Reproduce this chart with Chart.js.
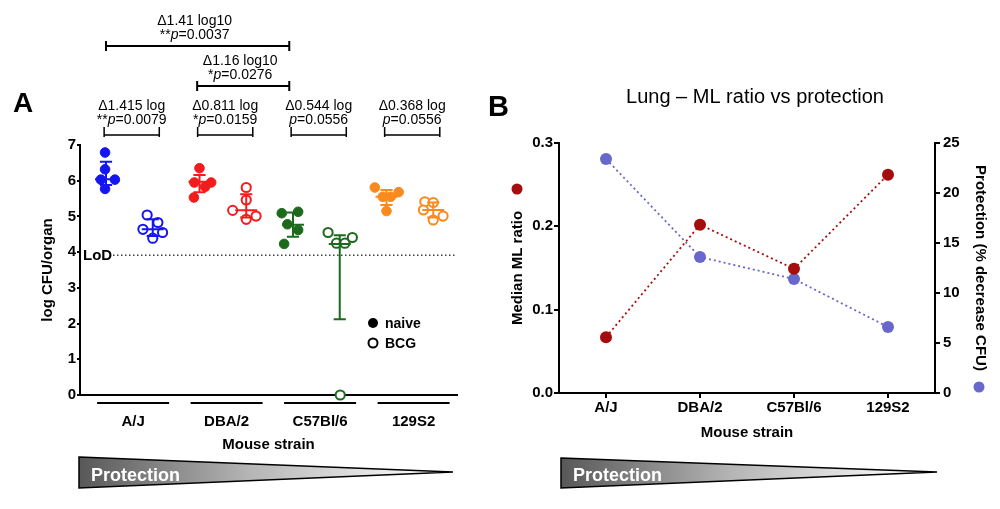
<!DOCTYPE html>
<html>
<head>
<meta charset="utf-8">
<script src="https://cdn.jsdelivr.net/npm/chart.js@4.4.1/dist/chart.umd.min.js"></script>
<style>
    html, body { margin: 0; padding: 0; background: #fff; }
    #wrap { position: relative; width: 1000px; height: 509px; overflow: hidden; }
    canvas { position: absolute; top: 0; }
    #cfuChart { left: 0; }
    #mlChart { left: 480px; }
</style>
</head>
<body>
<div id="wrap">
    <canvas id="cfuChart" width="480" height="509"></canvas>
    <canvas id="mlChart" width="520" height="509"></canvas>
</div>
<script>
const FONT = '"Liberation Sans", Arial, Helvetica, sans-serif';

// ---- Panel A data (log CFU/organ, 5 mice per group) ----
const strains = ['A/J', 'DBA/2', 'C57Bl/6', '129S2'];
const strainColors = ['#1515f2', '#f21c1c', '#1d6a1d', '#fa8a1c'];

const naiveCFU = [
    [6.79, 6.32, 6.03, 6.03, 5.77],
    [6.35, 5.95, 5.95, 5.83, 5.53],
    [5.09, 5.13, 4.78, 4.62, 4.23],
    [5.81, 5.55, 5.55, 5.68, 5.15]
];
const bcgCFU = [
    [5.04, 4.83, 4.64, 4.55, 4.39],
    [5.81, 5.46, 5.17, 5.01, 4.92],
    [4.55, 4.25, 4.25, 4.41, 0],
    [5.41, 5.39, 5.18, 5.01, 4.90]
];
// horizontal scatter of the dots inside each column
const naiveJitter = [
    [-0.02, -0.02, -0.11, 0.19, -0.02],
    [0, -0.11, 0.25, 0.12, -0.12],
    [-0.24, 0.11, -0.12, 0.11, -0.19],
    [-0.25, -0.08, 0.09, 0.26, 0]
];
const bcgJitter = [
    [-0.12, 0.11, -0.21, 0.21, 0],
    [0, 0, -0.29, 0.21, 0],
    [-0.25, -0.07, 0.11, 0.27, 0.01],
    [-0.18, 0, -0.21, 0.21, 0]
];
const naiveMedian = [6.04, 5.97, 4.77, 5.55];
const naiveLow = [5.88, 5.68, 4.43, 5.32];
const naiveHigh = [6.53, 6.16, 5.11, 5.74];
const bcgMedian = [4.64, 5.17, 4.23, 5.18];
const bcgLow = [4.45, 4.97, 2.12, 4.97];
const bcgHigh = [4.92, 5.62, 4.47, 5.39];
const lodValue = 3.91;

// naive vs BCG within each strain
const deltaText = ['\u03941.415 log', '\u03940.811 log', '\u03940.544 log', '\u03940.368 log'];
const deltaStars = ['**', '*', '', ''];
const deltaP = ['0.0079', '0.0159', '0.0556', '0.0556'];
// comparisons between strains (column indices)
const crossText = ['\u03941.41 log10', '\u03941.16 log10'];
const crossStars = ['**', '*'];
const crossP = ['0.0037', '0.0276'];
const crossFrom = [0, 1.95];
const crossTo = [3.92, 3.92];

// ---- Panel B data ----
const mlRatio = [0.067, 0.202, 0.149, 0.262];
const protectionPct = [23.4, 13.6, 11.4, 6.6];

const mlRed = '#a50d0d';
const protBlue = '#6767cc';

// italic p in "**p=0.0079"
function drawStat(ctx, stars, pval, cx, y) {
    const normal = '14px ' + FONT;
    const italic = 'italic 14px ' + FONT;
    ctx.font = normal;
    const w1 = ctx.measureText(stars).width;
    const w3 = ctx.measureText('=' + pval).width;
    ctx.font = italic;
    const w2 = ctx.measureText('p').width;
    let x = cx - (w1 + w2 + w3) / 2;
    ctx.textAlign = 'left';
    ctx.font = normal;
    ctx.fillText(stars, x, y);
    x += w1;
    ctx.font = italic;
    ctx.fillText('p', x, y);
    x += w2;
    ctx.font = normal;
    ctx.fillText('=' + pval, x, y);
}

// "Protection" wedge under each panel
function drawWedge(ctx, x0, yTop, yBot, xTip, yTip) {
    const g = ctx.createLinearGradient(x0, 0, xTip, 0);
    g.addColorStop(0, '#585858');
    g.addColorStop(0.45, '#b4b4b4');
    g.addColorStop(0.85, '#f0f0f0');
    g.addColorStop(1, '#ffffff');
    ctx.save();
    ctx.beginPath();
    ctx.moveTo(x0, yTop);
    ctx.lineTo(xTip, yTip);
    ctx.lineTo(x0, yBot);
    ctx.closePath();
    ctx.fillStyle = g;
    ctx.fill();
    ctx.strokeStyle = '#000';
    ctx.lineWidth = 1.5;
    ctx.stroke();
    ctx.fillStyle = '#fff';
    ctx.font = 'bold 18px ' + FONT;
    ctx.textAlign = 'left';
    ctx.textBaseline = 'alphabetic';
    ctx.fillText('Protection', x0 + 12, yBot - 7);
    ctx.restore();
}

// ---- Panel A ----
const cfuDatasets = [];
strains.forEach((s, k) => {
    cfuDatasets.push({
        label: s + ' naive',
        data: naiveCFU[k].map((v, i) => ({ x: 2 * k + naiveJitter[k][i], y: v })),
        backgroundColor: strainColors[k],
        borderColor: strainColors[k],
        pointRadius: 4.8,
        borderWidth: 1,
        clip: false
    });
    cfuDatasets.push({
        label: s + ' BCG',
        data: bcgCFU[k].map((v, i) => ({ x: 2 * k + 1 + bcgJitter[k][i], y: v })),
        backgroundColor: '#fff',
        borderColor: strainColors[k],
        pointRadius: 4.6,
        borderWidth: 2,
        clip: false
    });
});

const panelA = {
    id: 'panelA',
    beforeDatasetsDraw(chart) {
        const { ctx, scales: { y }, chartArea } = chart;
        const yl = y.getPixelForValue(lodValue);
        ctx.save();
        ctx.strokeStyle = '#444';
        ctx.lineWidth = 1.5;
        ctx.setLineDash([1.5, 2.5]);
        ctx.beginPath();
        ctx.moveTo(chartArea.left + 33, yl);
        ctx.lineTo(chartArea.right, yl);
        ctx.stroke();
        ctx.setLineDash([]);
        ctx.fillStyle = '#000';
        ctx.font = 'bold 15px ' + FONT;
        ctx.textBaseline = 'middle';
        ctx.textAlign = 'left';
        ctx.fillText('LoD', chartArea.left + 3, yl + 1);
        ctx.restore();
    },
    afterDatasetsDraw(chart) {
        const { ctx, scales: { x, y } } = chart;
        const bar = (slot, mid, lo, hi, color) => {
            const xc = x.getPixelForValue(slot);
            const mw = x.getPixelForValue(slot + 0.235) - xc;
            const cw = x.getPixelForValue(slot + 0.13) - xc;
            ctx.strokeStyle = color;
            ctx.lineWidth = 2;
            ctx.beginPath();
            ctx.moveTo(xc - mw, y.getPixelForValue(mid));
            ctx.lineTo(xc + mw, y.getPixelForValue(mid));
            ctx.moveTo(xc, y.getPixelForValue(hi));
            ctx.lineTo(xc, y.getPixelForValue(lo));
            ctx.moveTo(xc - cw, y.getPixelForValue(hi));
            ctx.lineTo(xc + cw, y.getPixelForValue(hi));
            ctx.moveTo(xc - cw, y.getPixelForValue(lo));
            ctx.lineTo(xc + cw, y.getPixelForValue(lo));
            ctx.stroke();
        };
        ctx.save();
        strains.forEach((s, k) => {
            bar(2 * k, naiveMedian[k], naiveLow[k], naiveHigh[k], strainColors[k]);
            bar(2 * k + 1, bcgMedian[k], bcgLow[k], bcgHigh[k], strainColors[k]);
        });
        ctx.restore();
    },
    afterDraw(chart) {
        const { ctx, scales: { x }, chartArea } = chart;
        ctx.save();
        ctx.fillStyle = '#000';
        ctx.strokeStyle = '#000';

        // big panel letter
        ctx.font = 'bold 28px ' + FONT;
        ctx.textAlign = 'left';
        ctx.textBaseline = 'alphabetic';
        ctx.fillText('A', 13, 112);

        // within-strain brackets
        ctx.lineWidth = 1.5;
        strains.forEach((s, k) => {
            const x0 = x.getPixelForValue(2 * k - 0.04);
            const x1 = x.getPixelForValue(2 * k + 1.14);
            ctx.beginPath();
            ctx.moveTo(x0, 127); ctx.lineTo(x0, 137);
            ctx.moveTo(x1, 127); ctx.lineTo(x1, 137);
            ctx.moveTo(x0, 135); ctx.lineTo(x1, 135);
            ctx.stroke();
            const cx = (x0 + x1) / 2;
            ctx.font = '14px ' + FONT;
            ctx.textAlign = 'center';
            ctx.textBaseline = 'middle';
            ctx.fillText(deltaText[k], cx, 106);
            drawStat(ctx, deltaStars[k], deltaP[k], cx, 120);
        });

        // between-strain brackets
        const levels = [46, 86];
        const textY = [[21, 35], [61, 75]];
        crossText.forEach((t, i) => {
            const x0 = x.getPixelForValue(crossFrom[i]);
            const x1 = x.getPixelForValue(crossTo[i]);
            const yb = levels[i];
            ctx.lineWidth = 2;
            ctx.beginPath();
            ctx.moveTo(x0, yb - 5); ctx.lineTo(x0, yb + 5);
            ctx.moveTo(x1, yb - 5); ctx.lineTo(x1, yb + 5);
            ctx.moveTo(x0, yb); ctx.lineTo(x1, yb);
            ctx.stroke();
            const cx = (x0 + x1) / 2 - 3;
            ctx.font = '14px ' + FONT;
            ctx.textAlign = 'center';
            ctx.textBaseline = 'middle';
            ctx.fillText(t, cx, textY[i][0]);
            drawStat(ctx, crossStars[i], crossP[i], cx, textY[i][1]);
        });

        // strain underlines below the axis
        ctx.lineWidth = 2;
        strains.forEach((s, k) => {
            const x0 = x.getPixelForValue(2 * k - 0.19);
            const x1 = x.getPixelForValue(2 * k + 1.35);
            ctx.beginPath();
            ctx.moveTo(x0, chartArea.bottom + 8);
            ctx.lineTo(x1, chartArea.bottom + 8);
            ctx.stroke();
        });

        // legend
        ctx.beginPath();
        ctx.arc(373, 323, 5, 0, Math.PI * 2);
        ctx.fill();
        ctx.beginPath();
        ctx.arc(373, 343, 4.5, 0, Math.PI * 2);
        ctx.lineWidth = 2;
        ctx.stroke();
        ctx.font = 'bold 14px ' + FONT;
        ctx.textAlign = 'left';
        ctx.textBaseline = 'middle';
        ctx.fillText('naive', 385, 324);
        ctx.fillText('BCG', 385, 344);

        ctx.restore();
        drawWedge(ctx, 79, 457, 488, 453, 472);
    }
};

const cfuChart = new Chart(document.getElementById('cfuChart').getContext('2d'), {
    type: 'scatter',
    data: { datasets: cfuDatasets },
    options: {
        responsive: false,
        animation: false,
        layout: { padding: { top: 145, right: 23, left: 0, bottom: 0 } },
        plugins: { legend: { display: false }, tooltip: { enabled: false } },
        scales: {
            x: {
                type: 'linear',
                min: -0.556,
                max: 7.508,
                afterFit: (s) => { s.height = 114; },
                afterBuildTicks: (s) => { s.ticks = strains.map((n, k) => ({ value: 2 * k + 0.58 })); },
                ticks: {
                    callback: (v, i) => strains[i],
                    autoSkip: false,
                    maxRotation: 0,
                    padding: 18,
                    color: '#000',
                    font: { family: FONT, size: 15, weight: 'bold' }
                },
                grid: { display: false, drawTicks: false },
                border: { display: true, color: '#000', width: 2 },
                title: {
                    display: true,
                    text: 'Mouse strain',
                    color: '#000',
                    font: { family: FONT, size: 15, weight: 'bold' },
                    padding: { top: 0, bottom: 55 }
                }
            },
            y: {
                min: 0,
                max: 7,
                afterFit: (s) => { s.width = 80; },
                ticks: {
                    stepSize: 1,
                    padding: 1,
                    color: '#000',
                    font: { family: FONT, size: 15, weight: 'bold' }
                },
                grid: { drawOnChartArea: false, tickLength: 3, color: '#000', lineWidth: 2 },
                border: { color: '#000', width: 2 },
                title: {
                    display: true,
                    text: 'log CFU/organ',
                    color: '#000',
                    font: { family: FONT, size: 15, weight: 'bold' },
                    padding: { top: 39, bottom: 0 }
                }
            }
        }
    },
    plugins: [panelA]
});

// ---- Panel B ----
const panelB = {
    id: 'panelB',
    afterDraw(chart) {
        const { ctx, chartArea } = chart;
        ctx.save();
        ctx.fillStyle = '#000';
        ctx.font = 'bold 29px ' + FONT;
        ctx.textAlign = 'left';
        ctx.textBaseline = 'alphabetic';
        ctx.fillText('B', 8, 116);

        ctx.font = '20px ' + FONT;
        ctx.textAlign = 'center';
        ctx.textBaseline = 'middle';
        ctx.fillText('Lung \u2013 ML ratio vs protection', (chartArea.left + chartArea.right) / 2 + 8, 97);

        // series keys next to the axis titles
        ctx.fillStyle = mlRed;
        ctx.beginPath();
        ctx.arc(37, 189, 5.5, 0, Math.PI * 2);
        ctx.fill();
        ctx.fillStyle = protBlue;
        ctx.beginPath();
        ctx.arc(499, 387, 5.5, 0, Math.PI * 2);
        ctx.fill();
        ctx.restore();

        drawWedge(ctx, 81, 458, 488, 457, 472);
    }
};

const mlChart = new Chart(document.getElementById('mlChart').getContext('2d'), {
    type: 'line',
    data: {
        labels: strains,
        datasets: [
            {
                label: 'Median ML ratio',
                data: mlRatio,
                yAxisID: 'y',
                borderColor: mlRed,
                backgroundColor: mlRed,
                borderWidth: 1.8,
                borderDash: [2, 3],
                pointRadius: 6,
                pointBorderWidth: 0,
                clip: false
            },
            {
                label: 'Protection',
                data: protectionPct,
                yAxisID: 'y1',
                borderColor: protBlue,
                backgroundColor: protBlue,
                borderWidth: 1.8,
                borderDash: [2, 3],
                pointRadius: 6,
                pointBorderWidth: 0,
                clip: false
            }
        ]
    },
    options: {
        responsive: false,
        animation: false,
        layout: { padding: { top: 143, right: 0, left: 0, bottom: 0 } },
        plugins: { legend: { display: false }, tooltip: { enabled: false } },
        scales: {
            x: {
                offset: true,
                afterFit: (s) => { s.height = 116; },
                ticks: {
                    padding: 1,
                    color: '#000',
                    font: { family: FONT, size: 15, weight: 'bold' }
                },
                grid: { drawOnChartArea: false, tickLength: 5, color: '#000', lineWidth: 2 },
                border: { color: '#000', width: 2 },
                title: {
                    display: true,
                    text: 'Mouse strain',
                    color: '#000',
                    font: { family: FONT, size: 15, weight: 'bold' },
                    padding: { top: 0, bottom: 67 }
                }
            },
            y: {
                position: 'left',
                min: 0,
                max: 0.3,
                afterFit: (s) => { s.width = 79; },
                ticks: {
                    stepSize: 0.1,
                    padding: 1,
                    callback: (v) => v.toFixed(1),
                    color: '#000',
                    font: { family: FONT, size: 15, weight: 'bold' }
                },
                grid: { drawOnChartArea: false, tickLength: 5, color: '#000', lineWidth: 2 },
                border: { color: '#000', width: 2 },
                title: {
                    display: true,
                    text: 'Median ML ratio',
                    color: '#000',
                    font: { family: FONT, size: 15, weight: 'bold' },
                    padding: { top: 29, bottom: 0 }
                }
            },
            y1: {
                position: 'right',
                min: 0,
                max: 25,
                afterFit: (s) => { s.width = 65; },
                ticks: {
                    stepSize: 5,
                    padding: 3,
                    color: '#000',
                    font: { family: FONT, size: 15, weight: 'bold' }
                },
                grid: { drawOnChartArea: false, tickLength: 5, color: '#000', lineWidth: 2 },
                border: { color: '#000', width: 2 },
                title: {
                    display: true,
                    text: 'Protection (% decrease CFU)',
                    color: '#000',
                    font: { family: FONT, size: 15, weight: 'bold' },
                    padding: { top: 11, bottom: 0 }
                }
            }
        }
    },
    plugins: [panelB]
});
</script>
</body>
</html>
